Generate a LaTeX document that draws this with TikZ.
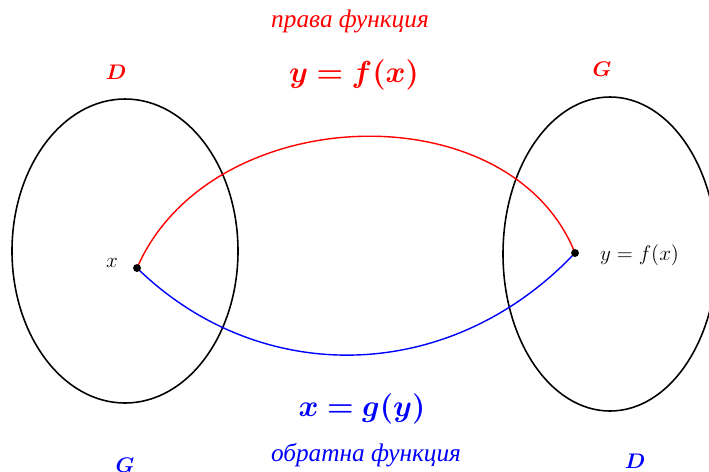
\documentclass[tikz,border=0pt]{standalone}
\usepackage{amsmath}
\usepackage{bm}
\usepackage{fontspec}
\newfontfamily\cyrfont{Liberation Serif}
\usetikzlibrary{positioning}

\begin{document}
\begin{tikzpicture}[
    x=0.02cm, y=-0.02cm,
    set/.style={draw=black, line width=0.9pt},
    pt/.style={circle, fill=black, inner sep=0pt, minimum size=4.5pt},
    fmap/.style={red, line width=0.8pt},
    gmap/.style={blue, line width=0.8pt},
    setlbl/.style={font=\large, inner sep=0pt},
    eq/.style={font=\fontsize{18}{22}\selectfont, inner sep=0pt},
    word/.style={font=\Large\cyrfont\itshape, inner sep=0pt}]

  \clip (0,0) rectangle (709,471);

  % ---- the two sets ----
  \draw[set] (125,251) ellipse [x radius=113, y radius=152];
  \draw[set] (610,254) ellipse [x radius=107, y radius=157];

  \coordinate (x0) at (137,268);
  \coordinate (y0) at (575,253);

  % ---- the two maps ----
  \draw[fmap] (x0) .. controls (210,100) and (510,90) .. (y0);
  \draw[gmap] (x0) .. controls (260,388) and (450,385) .. (y0);

  \node[pt] (dotx) at (x0) {};
  \node[pt] (doty) at (y0) {};
  \node[font=\large] (lblx) at (112,263) {$x$};
  \node[font=\large, anchor=west] (lbly) at (594,255) {$y=f(x)$};

  % ---- top: direct function ----
  \node[word, red] (fname) at (350,21) {права функция};
  \node[eq, red] (feq) at (354,75) {$\bm{y=f(x)}$};
  \node[setlbl, red] (fD) at (116,72) {$\bm{D}$};
  \node[setlbl, red] (fG) at (602,69) {$\bm{G}$};

  % ---- bottom: inverse function ----
  \node[eq, blue] (geq) at (362,409) {$\bm{x=g(y)}$};
  \node[word, blue] (gname) at (366,455) {обратна функция};
  \node[setlbl, blue] (gG) at (125,465) {$\bm{G}$};
  \node[setlbl, blue] (gD) at (635,461) {$\bm{D}$};
\end{tikzpicture}
\end{document}
